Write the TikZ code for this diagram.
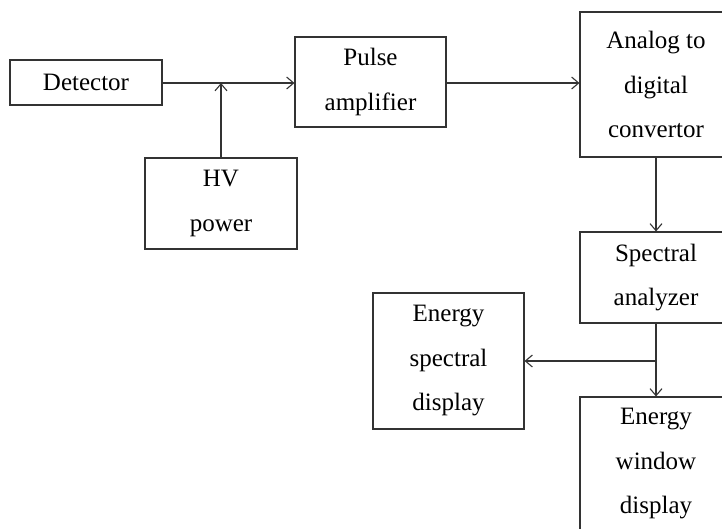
\documentclass[tikz,border=0pt]{standalone}
\usepackage{fontspec}
\setmainfont{Liberation Serif}
\usetikzlibrary{arrows.meta}
\begin{document}
\begin{tikzpicture}[x=1pt,y=-1pt,
  block/.style={draw=black!80, line width=1.1pt, align=center, inner sep=0pt,
    font=\fontsize{25}{44.5}\selectfont, minimum width=152pt},
  link/.style={draw=black!80, line width=1.1pt,
    -{Straight Barb[length=7pt,width=12pt]}}
  ]
  \useasboundingbox (0,0) rectangle (722,528);
  \clip (0,0) rectangle (722,528);
  % front end
  \node[block, minimum height=45pt] (det) at (86,82.5) {Detector};
  \node[block, minimum height=91pt] (hv) at (221,203.5) {HV\\power};
  \node[block, minimum width=151pt, minimum height=90pt] (amp) at (370.5,82) {Pulse\\amplifier};
  % right column
  \node[block, minimum height=145pt] (adc) at (656,84.5) {Analog to\\digital\\convertor};
  \node[block, minimum height=91pt] (spec) at (656,277.5) {Spectral\\analyzer};
  \node[block, minimum height=134pt] (ewd) at (656,464) {Energy\\window\\display};
  \node[block, minimum width=151pt, minimum height=136pt] (esd) at (448.5,361) {Energy\\spectral\\display};
  % connectors
  \draw[link] (det.east |- 0,83) -- (amp.west |- 0,83);
  \draw[link] (hv.north) -- (hv.north |- 0,83);
  \draw[link] (amp.east |- 0,83) -- (adc.west |- 0,83);
  \draw[link] (adc.south) -- (spec.north);
  \draw[link] (spec.south) -- (ewd.north);
  \draw[link] (spec.south |- esd.east) -- (esd.east);
\end{tikzpicture}
\end{document}
